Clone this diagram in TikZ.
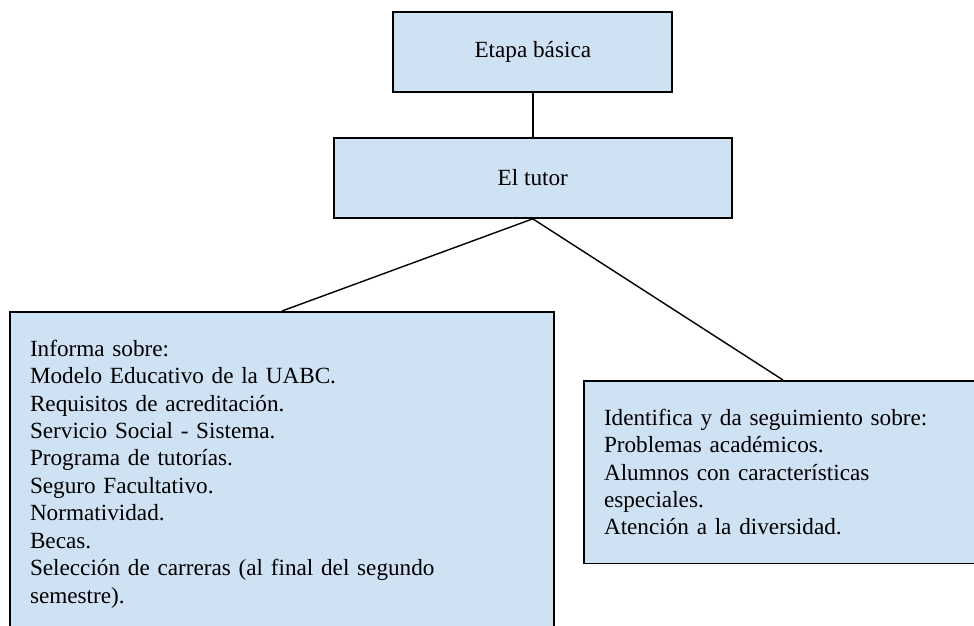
\documentclass[tikz,border=0pt]{standalone}
\usepackage{fontspec}
\setmainfont{Liberation Serif}
\usepackage{xcolor}
\usepackage{tikz}
\definecolor{cajaazul}{RGB}{207,226,243}

\begin{document}
\begin{tikzpicture}[
    caja/.style={draw=black, line width=1.2pt, fill=cajaazul,
        font=\fontsize{16.5pt}{19.5pt}\selectfont},
    lista/.style={caja, anchor=north, text width=#1, align=left,
        inner xsep=0.5cm, inner ysep=20pt},
    enlace/.style={line width=1pt}
]
    \useasboundingbox (0,0) rectangle (24.35,15.65);
    \clip (0,0) rectangle (24.35,15.65);

    % stage and tutor
    \node[caja, minimum width=6.975cm, minimum height=2cm] (etapa) at (13.32,14.35) {Etapa básica};
    \node[caja, minimum width=9.95cm, minimum height=2cm] (tutor) at (13.32,11.2) {El tutor};

    % left box: informa
    \node[lista=12.6cm] (informa) at (7.05,7.875) {
        Informa sobre:\\
        Modelo Educativo de la UABC.\\
        Requisitos de acreditación.\\
        Servicio Social - Sistema.\\
        Programa de tutorías.\\
        Seguro Facultativo.\\
        Normatividad.\\
        Becas.\\
        Selección de carreras (al final del segundo\\
        semestre).
    };

    % right box: identifica
    \node[lista=8.95cm] (identifica) at (19.575,6.15) {
        Identifica y da seguimiento sobre:\\
        Problemas académicos.\\
        Alumnos con características\\
        especiales.\\
        Atención a la diversidad.
    };

    % connectors
    \draw[enlace] (etapa.south) -- (tutor.north);
    \draw[enlace] (tutor.south) -- (informa.north);
    \draw[enlace] (tutor.south) -- (identifica.north);
\end{tikzpicture}
\end{document}
